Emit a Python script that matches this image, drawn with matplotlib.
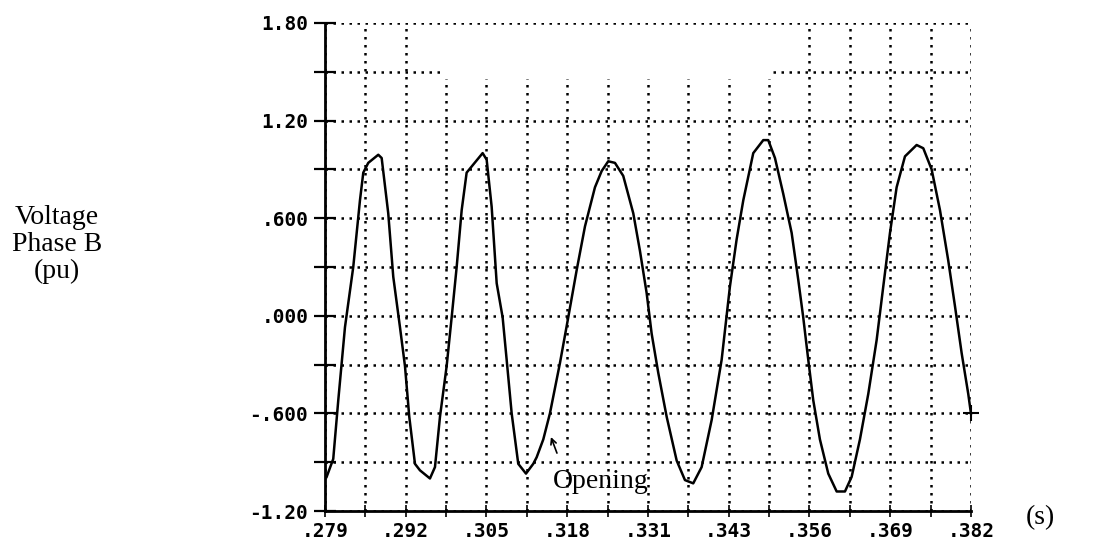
import matplotlib
matplotlib.use('Agg')
import matplotlib.pyplot as plt
from matplotlib.patches import Rectangle
import numpy as np

# time (s) and phase B voltage (pu)
t = [0.27927, 0.28032, 0.28112, 0.28219, 0.28351, 0.28458, 0.28511, 0.28590,
     0.28750, 0.28804, 0.28909, 0.28989, 0.29096, 0.29176, 0.29244, 0.29335,
     0.29415, 0.29574, 0.29654, 0.29734, 0.29840, 0.29920, 0.30000, 0.30080,
     0.30159, 0.30265, 0.30414, 0.30478, 0.30558, 0.30638, 0.30733, 0.30797,
     0.30877, 0.30982, 0.31105, 0.31221, 0.31275, 0.31381, 0.31487, 0.31647,
     0.31779, 0.31913, 0.32046, 0.32205, 0.32312, 0.32417, 0.32524, 0.32656,
     0.32816, 0.32922, 0.33029, 0.33109, 0.33214, 0.33348, 0.33508, 0.33640,
     0.33772, 0.33906, 0.34066, 0.34225, 0.34357, 0.34464, 0.34570, 0.34729,
     0.34889, 0.34968, 0.35075, 0.35207, 0.35341, 0.35447, 0.35526, 0.35606,
     0.35686, 0.35792, 0.35925, 0.36059, 0.36191, 0.36298, 0.36430, 0.36563,
     0.36696, 0.36802, 0.36909, 0.37015, 0.37148, 0.37334, 0.37440, 0.37573,
     0.37706, 0.37838, 0.37945, 0.38052, 0.38157, 0.38200]
v = [-0.99, -0.88, -0.52, -0.07, 0.30, 0.71, 0.88, 0.94,
     0.99, 0.97, 0.63, 0.24, -0.07, -0.31, -0.62, -0.91,
     -0.95, -1.00, -0.93, -0.62, -0.31, -0.01, 0.30, 0.65,
     0.88, 0.93, 1.00, 0.96, 0.67, 0.20, -0.01, -0.27,
     -0.60, -0.91, -0.97, -0.91, -0.87, -0.76, -0.60, -0.29,
     -0.01, 0.28, 0.55, 0.79, 0.89, 0.95, 0.94, 0.86,
     0.63, 0.40, 0.14, -0.11, -0.35, -0.62, -0.89, -1.01,
     -1.03, -0.93, -0.64, -0.27, 0.18, 0.47, 0.71, 1.00,
     1.08, 1.08, 0.97, 0.75, 0.51, 0.22, -0.01, -0.27,
     -0.52, -0.76, -0.97, -1.08, -1.08, -0.99, -0.76, -0.48,
     -0.15, 0.18, 0.51, 0.79, 0.98, 1.05, 1.03, 0.90,
     0.65, 0.34, 0.06, -0.23, -0.48, -0.60]

x_labels = ['.279', '.292', '.305', '.318', '.331', '.343', '.356', '.369', '.382']
y_ticks = [-1.2, -0.6, 0.0, 0.6, 1.2, 1.8]
y_labels = ['-1.20', '-.600', '.000', '.600', '1.20', '1.80']

# "Opening" marker: arrow head / tail on the trace
open_head = (0.31503, -0.745)
open_tail = (0.31599, -0.844)

fig = plt.figure(figsize=(10.96, 5.5), dpi=100)
ax = fig.add_axes([0.2965, 0.0709, 0.5894, 0.8873])

x0, x1 = 0.279, 0.382
ax.set_xlim(x0, x1)
ax.set_ylim(-1.2, 1.8)

xt_major = np.linspace(x0, x1, len(x_labels))
xt_all = np.linspace(x0, x1, 2 * len(x_labels) - 1)
ax.set_xticks(xt_major)
ax.set_xticklabels(x_labels)
ax.set_xticks(xt_all, minor=True)
ax.set_yticks(y_ticks)
ax.set_yticklabels(y_labels)
ax.set_yticks(np.arange(-1.2, 1.81, 0.3), minor=True)

ax.grid(True, which='both', color='black', linestyle=(0, (1, 2.2)), linewidth=1.8)

for s in ['top', 'right']:
    ax.spines[s].set_visible(False)
for s in ['left', 'bottom']:
    ax.spines[s].set_linewidth(2)

ax.tick_params(axis='y', which='both', direction='inout', length=16, width=1.6, pad=4)
ax.tick_params(axis='x', which='both', direction='inout', length=8, width=1.2, pad=4)
for lab in ax.get_xticklabels() + ax.get_yticklabels():
    lab.set_fontfamily('DejaVu Sans Mono')
    lab.set_fontweight('bold')
    lab.set_fontsize(14)

# blank patch where the top grid row was erased
ax.add_patch(Rectangle((0.181, 0.885), 0.511, 0.103, transform=ax.transAxes,
                       facecolor='white', edgecolor='none', zorder=1.8))

ax.plot(t, v, color='black', linewidth=1.8, zorder=3, clip_on=False)
ax.plot(t[-1:], v[-1:], marker='+', color='black', markersize=12, mew=1.5, zorder=3, clip_on=False)

ax.annotate('', xy=open_head, xytext=open_tail,
            arrowprops=dict(arrowstyle='->', color='black', lw=1.2, shrinkA=0, shrinkB=0))
ax.text(0.31535, -1.02, 'Opening', family='Liberation Serif', fontsize=20,
        ha='left', va='center', zorder=4)

fig.text(0.052, 0.556, 'Voltage\nPhase B\n(pu)', family='Liberation Serif', fontsize=20,
         ha='center', va='center', linespacing=1.1)
fig.text(0.949, 0.058, '(s)', family='Liberation Serif', fontsize=20,
         ha='center', va='center')

fig.savefig('out.png', dpi=100)
